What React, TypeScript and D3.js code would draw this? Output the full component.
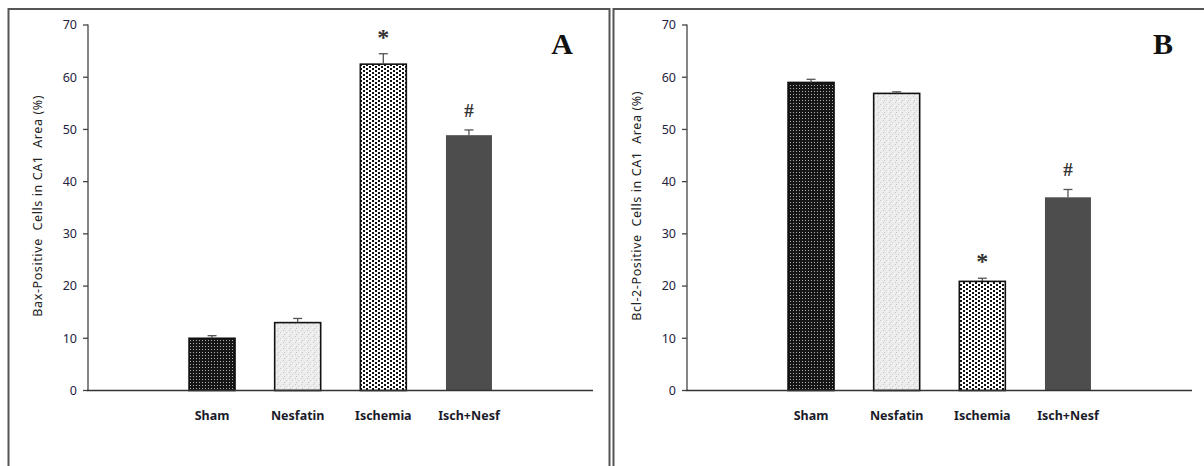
import React from "react";
import * as d3 from "d3";

// groups on the x axis
const groups = ["Sham", "Nesfatin", "Ischemia", "Isch+Nesf"];
// panel A: Bax-positive cells (%)
const baxValues = [10.0, 13.0, 62.5, 48.9];
const baxErrors = [0.5, 0.8, 2.0, 1.0];
const baxMarks = ["", "", "*", "#"];
// panel B: Bcl-2-positive cells (%)
const bclValues = [59.0, 56.9, 20.9, 37.0];
const bclErrors = [0.6, 0.3, 0.6, 1.5];
const bclMarks = ["", "", "*", "#"];
const yTicks = [0, 10, 20, 30, 40, 50, 60, 70];

const fills = ["url(#pSham)", "url(#pNesf)", "url(#pIsch)", "#4d4d4d"];
const strokes = ["#111", "#111", "#111", "none"];

const font = "'Noto Sans', 'Open Sans', sans-serif";

function Panel({ x0, title, letter, values, errors, marks, letterX }) {
  const axisX = x0 + 79;
  const axisEnd = axisX + 505;
  const y = d3.scaleLinear().domain([0, 70]).range([390.5, 25]);
  const xb = d3
    .scaleBand()
    .domain(groups)
    .range([axisX, axisEnd])
    .paddingInner(0.463)
    .paddingOuter(1.18);
  const bw = xb.bandwidth();

  return (
    <g>
      <text
        transform={`translate(${x0 + 33},${y(35) - 2}) rotate(-90)`}
        textAnchor="middle"
        fontFamily={font}
        fontSize={12.5}
        letterSpacing={0.6}
        fill="#222"
        style={{ whiteSpace: "pre" }}
      >
        {title}
      </text>
      {yTicks.map((t) => (
        <g key={t}>
          <line x1={axisX - 5} x2={axisX} y1={y(t)} y2={y(t)} stroke="#444" strokeWidth={1.3} />
          <text
            x={axisX - 11}
            y={y(t)}
            dy="0.35em"
            textAnchor="end"
            fontFamily={font}
            fontSize={12.5}
            fill="#1f2340"
          >
            {t}
          </text>
        </g>
      ))}
      {groups.map((g, i) => {
        const bx = xb(g);
        const cx = bx + bw / 2;
        const top = y(values[i] + errors[i]);
        return (
          <g key={g}>
            <rect
              x={bx}
              y={y(values[i])}
              width={bw}
              height={y(0) - y(values[i])}
              fill={fills[i]}
              stroke={strokes[i]}
              strokeWidth={1.6}
            />
            <line x1={cx} x2={cx} y1={y(values[i])} y2={top} stroke="#555" strokeWidth={1.3} />
            <line x1={cx - 4.5} x2={cx + 4.5} y1={top} y2={top} stroke="#555" strokeWidth={1.3} />
            {marks[i] && (
              <text
                x={cx}
                y={marks[i] === "*" ? top - 9 : top - 13}
                textAnchor="middle"
                fontFamily="'Liberation Serif', serif"
                fontWeight="bold"
                fontSize={marks[i] === "*" ? 24 : 19}
                fill="#333"
              >
                {marks[i]}
              </text>
            )}
            <text
              x={cx}
              y={419.5}
              textAnchor="middle"
              fontFamily={font}
              fontWeight="bold"
              fontSize={12.5}
              fill="#1a1a2a"
            >
              {g}
            </text>
          </g>
        );
      })}
      <line x1={axisX} x2={axisX} y1={y(70) - 0.5} y2={y(0)} stroke="#444" strokeWidth={1.3} />
      <line x1={axisX - 1} x2={axisEnd} y1={y(0)} y2={y(0)} stroke="#333" strokeWidth={1.3} />
      <text
        x={letterX}
        y={54}
        textAnchor="middle"
        fontFamily="'Liberation Serif', serif"
        fontWeight="bold"
        fontSize={30}
        fill="#111"
      >
        {letter}
      </text>
    </g>
  );
}

export default function App() {
  return (
    <div style={{ position: "absolute", left: 0, top: 0 }}>
      <svg width={1204} height={466} style={{ display: "block", background: "#fff" }}>
        <defs>
          <pattern id="pSham" width={3} height={3} patternUnits="userSpaceOnUse">
            <rect width={3} height={3} fill="#151515" />
            <rect x={1} y={1} width={1} height={1} fill="#b0b0b0" />
          </pattern>
          <pattern id="pNesf" width={6} height={6} patternUnits="userSpaceOnUse">
            <rect width={6} height={6} fill="#ececec" />
            <rect x={1} y={0} width={1} height={1} fill="#c8c8c8" />
            <rect x={4} y={2} width={1} height={1} fill="#d0d0d0" />
            <rect x={2} y={4} width={1} height={1} fill="#c4c4c4" />
            <rect x={5} y={5} width={1} height={1} fill="#f8f8f8" />
            <rect x={0} y={3} width={1} height={1} fill="#f8f8f8" />
          </pattern>
          <pattern id="pIsch" width={6} height={4} patternUnits="userSpaceOnUse">
            <rect width={6} height={4} fill="#fff" />
            <rect x={0} y={0} width={2} height={2} fill="#111" />
            <rect x={3} y={2} width={2} height={2} fill="#111" />
          </pattern>
        </defs>
        <rect x={8.5} y={9} width={601} height={470} fill="none" stroke="#555" strokeWidth={2} />
        <rect x={613.5} y={9} width={600} height={470} fill="none" stroke="#555" strokeWidth={2} />
        <Panel
          x0={9}
          title="Bax-Positive  Cells in CA1  Area (%)"
          letter="A"
          values={baxValues}
          errors={baxErrors}
          marks={baxMarks}
          letterX={562}
        />
        <Panel
          x0={608}
          title="Bcl-2-Positive  Cells in CA1  Area (%)"
          letter="B"
          values={bclValues}
          errors={bclErrors}
          marks={bclMarks}
          letterX={1163}
        />
      </svg>
    </div>
  );
}
